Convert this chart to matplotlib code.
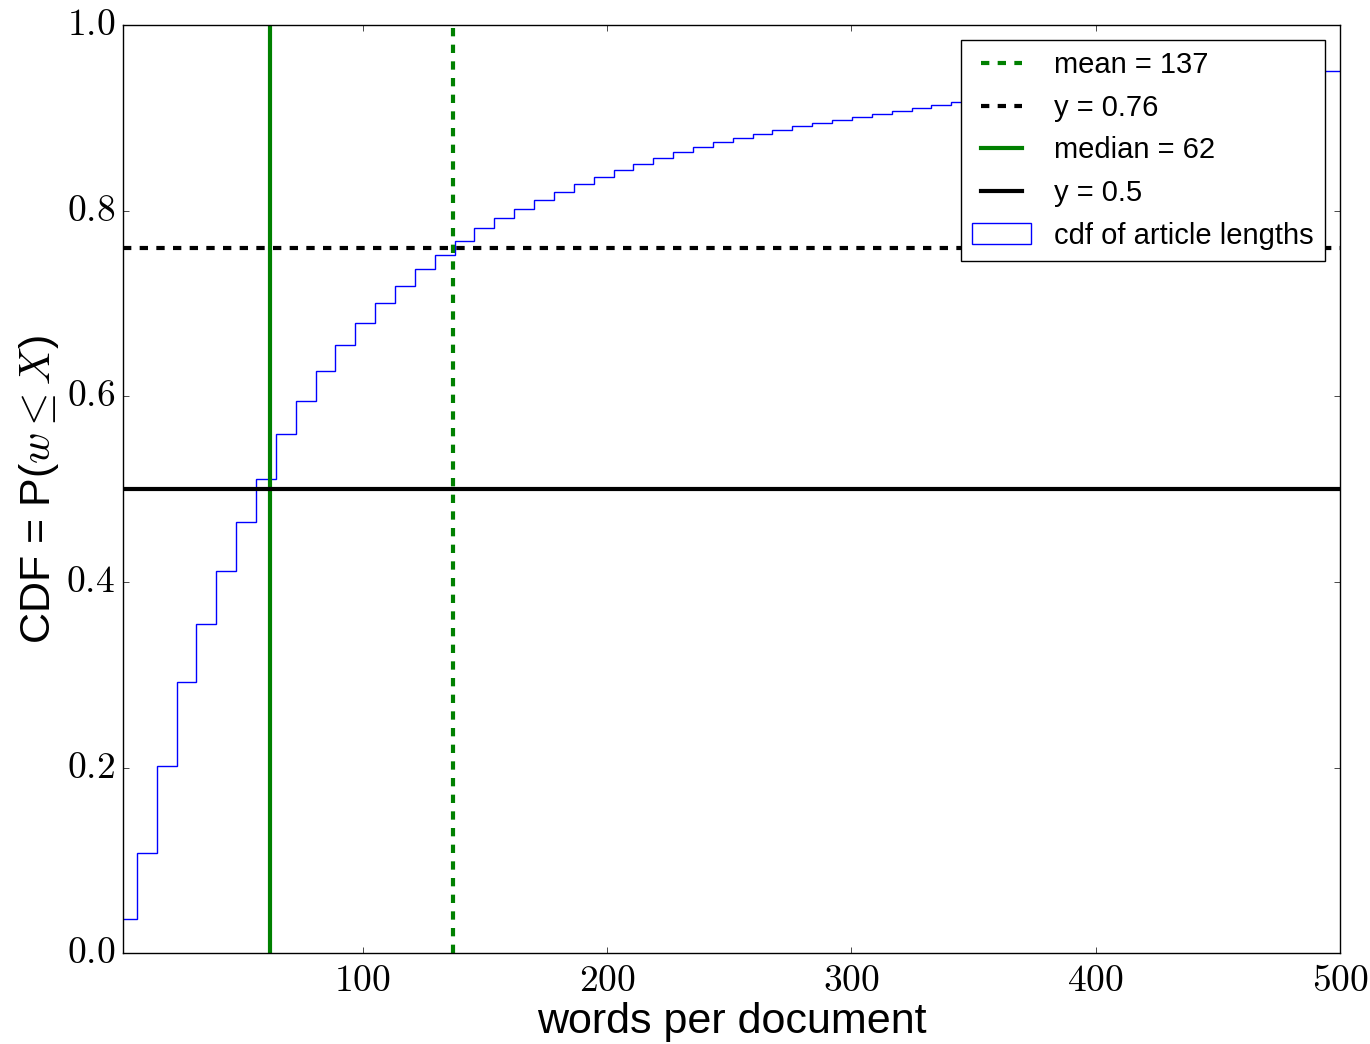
import matplotlib
matplotlib.use("Agg")
import matplotlib.pyplot as plt
from matplotlib.patches import Patch
from matplotlib.ticker import FuncFormatter, MultipleLocator

# bin edges of the cumulative histogram (words per document)
edges = [-0.6, 7.5, 15.6, 23.8, 31.9, 40.0, 48.2, 56.3, 64.4, 72.5, 80.7,
         88.8, 96.9, 105.1, 113.2, 121.3, 129.5, 137.6, 145.7, 153.9, 162.0,
         170.1, 178.3, 186.4, 194.5, 202.7, 210.8, 218.9, 227.1, 235.2, 243.3,
         251.5, 259.6, 267.7, 275.9, 284.0, 292.1, 300.3, 308.4, 316.5, 324.7,
         332.8, 340.9, 349.1, 357.2, 365.3, 373.5, 381.6, 389.7, 397.9, 406.0,
         414.1, 422.3, 430.4, 438.5, 446.7, 454.8, 462.9, 471.1, 479.2, 487.3,
         495.5, 503.6]

# cumulative fraction of articles for each bin
cdf = [0.0370, 0.1077, 0.2021, 0.2926, 0.3547, 0.4118, 0.4643, 0.5113,
       0.5591, 0.5950, 0.6273, 0.6556, 0.6793, 0.7009, 0.7192, 0.7368,
       0.7522, 0.7676, 0.7810, 0.7921, 0.8021, 0.8115, 0.8201, 0.8284,
       0.8359, 0.8435, 0.8506, 0.8567, 0.8629, 0.8683, 0.8736, 0.8783,
       0.8829, 0.8869, 0.8909, 0.8948, 0.8977, 0.9009, 0.9045, 0.9074,
       0.9106, 0.9135, 0.9167, 0.9195, 0.9222, 0.9248, 0.9273, 0.9297,
       0.9320, 0.9342, 0.9363, 0.9383, 0.9402, 0.9419, 0.9435, 0.9450,
       0.9464, 0.9477, 0.9489, 0.9500, 0.9507, 0.9510]

media = 137
mediana = 62
y_media = 0.76
y_mediana = 0.5

plt.style.use("classic")
plt.rcParams["font.family"] = ["Liberation Sans", "DejaVu Sans"]
plt.rcParams["mathtext.fontset"] = "cm"

fig = plt.figure(figsize=(13.7, 10.44), dpi=100, facecolor="white")
ax = fig.add_axes([0.090, 0.0869, 0.9781 - 0.090, 0.976 - 0.0869])

ax.stairs(cdf, edges, baseline=0, color="blue", linewidth=1.0)

l_media = ax.axvline(media, color="green", linestyle="--", linewidth=3)
l_ymedia = ax.axhline(y_media, color="black", linestyle="--", linewidth=3)
l_mediana = ax.axvline(mediana, color="green", linestyle="-", linewidth=3)
l_ymediana = ax.axhline(y_mediana, color="black", linestyle="-", linewidth=3)

ax.set_xlim(2, 500)
ax.set_ylim(0, 1)
ax.xaxis.set_major_locator(MultipleLocator(100))
ax.yaxis.set_major_locator(MultipleLocator(0.2))
ax.xaxis.set_major_formatter(FuncFormatter(lambda v, p: "$%d$" % v))
ax.yaxis.set_major_formatter(FuncFormatter(lambda v, p: "$%.1f$" % v))
ax.tick_params(axis="both", labelsize=27)
ax.tick_params(axis="x", pad=7)
ax.tick_params(axis="y", pad=6)

ax.set_xlabel("words per document", fontsize=31, labelpad=2)
ax.set_ylabel(r"CDF = P($w \leq X$)", fontsize=31, labelpad=4)

# parche de leyenda: rectangulo blanco con borde azul
p_cdf = Patch(facecolor="white", edgecolor="blue", linewidth=1.0)
ax.legend([l_media, l_ymedia, l_mediana, l_ymediana, p_cdf],
          [f"mean = {media}", f"y = {y_media}", f"median = {mediana}",
           f"y = {y_mediana}", "cdf of article lengths"],
          loc="upper right", fontsize=21)

fig.savefig("out.png", dpi=100, facecolor="white")
